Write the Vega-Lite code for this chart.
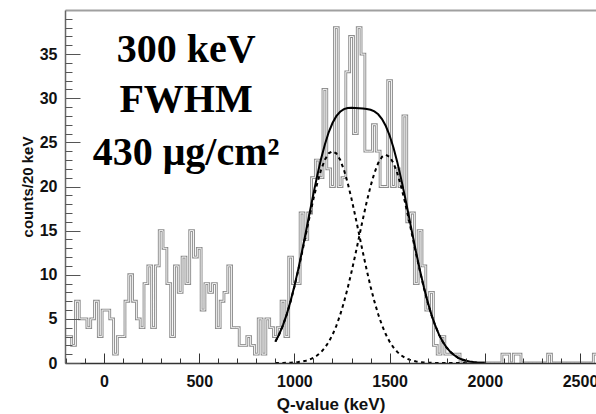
{
  "$schema": "https://vega.github.io/schema/vega-lite/v6.json",
  "autosize": "none",
  "width": 531,
  "height": 353,
  "padding": {"left": 65, "top": 10, "right": 0, "bottom": 51},
  "config": {"view": {"stroke": null}, "font": "Liberation Sans"},
  "datasets": {
    "hist": [
      {"q":-210,"n":3},{"q":-190,"n":3},{"q":-170,"n":2},{"q":-150,"n":7},{"q":-130,"n":5},{"q":-110,"n":5},{"q":-90,"n":4},{"q":-70,"n":5},{"q":-50,"n":7},{"q":-30,"n":3},
      {"q":-10,"n":6},{"q":10,"n":6},{"q":30,"n":5},{"q":50,"n":1},{"q":70,"n":3},{"q":90,"n":3},{"q":110,"n":7},{"q":130,"n":10},{"q":150,"n":7},{"q":170,"n":5},
      {"q":190,"n":4},{"q":210,"n":9},{"q":230,"n":11},{"q":250,"n":4},{"q":270,"n":11},{"q":290,"n":15},{"q":310,"n":13},{"q":330,"n":9},{"q":350,"n":3},{"q":370,"n":11},
      {"q":390,"n":8},{"q":410,"n":12},{"q":430,"n":9},{"q":450,"n":15},{"q":470,"n":12},{"q":490,"n":13},{"q":510,"n":6},{"q":530,"n":9},{"q":550,"n":8},{"q":570,"n":9},
      {"q":590,"n":4},{"q":610,"n":7},{"q":630,"n":8},{"q":650,"n":11},{"q":670,"n":4},{"q":690,"n":4},{"q":710,"n":2},{"q":730,"n":2},{"q":750,"n":3},{"q":770,"n":2},
      {"q":790,"n":1},{"q":810,"n":5},{"q":830,"n":1},{"q":850,"n":5},{"q":870,"n":4},{"q":890,"n":3},{"q":910,"n":4},{"q":930,"n":7},{"q":950,"n":3},{"q":970,"n":12},
      {"q":990,"n":9},{"q":1010,"n":9},{"q":1030,"n":17},{"q":1050,"n":14},{"q":1070,"n":17},{"q":1090,"n":21},{"q":1110,"n":23},{"q":1130,"n":21},{"q":1150,"n":31},{"q":1170,"n":22},
      {"q":1190,"n":20},{"q":1210,"n":38},{"q":1230,"n":20},{"q":1250,"n":21},{"q":1270,"n":33},{"q":1290,"n":37},{"q":1310,"n":26},{"q":1330,"n":38},{"q":1350,"n":35},{"q":1370,"n":24},
      {"q":1390,"n":24},{"q":1410,"n":27},{"q":1430,"n":24},{"q":1450,"n":20},{"q":1470,"n":20},{"q":1490,"n":32},{"q":1510,"n":20},{"q":1530,"n":22},{"q":1550,"n":20},{"q":1570,"n":28},
      {"q":1590,"n":16},{"q":1610,"n":17},{"q":1630,"n":9},{"q":1650,"n":15},{"q":1670,"n":11},{"q":1690,"n":6},{"q":1710,"n":8},{"q":1730,"n":2},{"q":1750,"n":1},{"q":1770,"n":3},
      {"q":1790,"n":1},{"q":1810,"n":1},{"q":1830,"n":1},{"q":1850,"n":1},{"q":1870,"n":0},{"q":1890,"n":0},{"q":1910,"n":0},{"q":1930,"n":0},{"q":1950,"n":0},{"q":1970,"n":0},
      {"q":1990,"n":0},{"q":2010,"n":0},{"q":2030,"n":0},{"q":2050,"n":0},{"q":2070,"n":0},{"q":2090,"n":1},{"q":2110,"n":1},{"q":2130,"n":0},{"q":2150,"n":1},{"q":2170,"n":1},
      {"q":2190,"n":0},{"q":2210,"n":0},{"q":2230,"n":0},{"q":2250,"n":0},{"q":2270,"n":0},{"q":2290,"n":0},{"q":2310,"n":0},{"q":2330,"n":1},{"q":2350,"n":0},{"q":2370,"n":0},
      {"q":2390,"n":0},{"q":2410,"n":0},{"q":2430,"n":0},{"q":2450,"n":0},{"q":2470,"n":0},{"q":2490,"n":0},{"q":2510,"n":0},{"q":2530,"n":0},{"q":2550,"n":0},{"q":2570,"n":1},
      {"q":2590,"n":1}
    ],
    "fit": [
      {"q":900,"t":2.42,"a":2.42,"b":0.0},{"q":920,"t":3.26,"a":3.25,"b":0.01},{"q":940,"t":4.29,"a":4.28,"b":0.01},{"q":960,"t":5.54,"a":5.52,"b":0.02},{"q":980,"t":7.02,"a":6.98,"b":0.04},
      {"q":1000,"t":8.72,"a":8.65,"b":0.07},{"q":1020,"t":10.61,"a":10.5,"b":0.11},{"q":1040,"t":12.66,"a":12.49,"b":0.17},{"q":1060,"t":14.82,"a":14.56,"b":0.26},{"q":1080,"t":17.02,"a":16.62,"b":0.4},
      {"q":1100,"t":19.19,"a":18.6,"b":0.59},{"q":1120,"t":21.25,"a":20.38,"b":0.87},{"q":1140,"t":23.14,"a":21.9,"b":1.24},{"q":1160,"t":24.77,"a":23.04,"b":1.73},{"q":1180,"t":26.14,"a":23.76,"b":2.38},
      {"q":1200,"t":27.19,"a":24.0,"b":3.19},{"q":1220,"t":27.97,"a":23.76,"b":4.21},{"q":1240,"t":28.47,"a":23.04,"b":5.43},{"q":1260,"t":28.77,"a":21.9,"b":6.87},{"q":1280,"t":28.89,"a":20.38,"b":8.51},
      {"q":1300,"t":28.93,"a":18.6,"b":10.33},{"q":1320,"t":28.9,"a":16.62,"b":12.28},{"q":1340,"t":28.87,"a":14.56,"b":14.31},{"q":1360,"t":28.84,"a":12.49,"b":16.35},{"q":1380,"t":28.79,"a":10.5,"b":18.29},
      {"q":1400,"t":28.69,"a":8.65,"b":20.04},{"q":1420,"t":28.51,"a":6.98,"b":21.53},{"q":1440,"t":28.18,"a":5.52,"b":22.66},{"q":1460,"t":27.64,"a":4.28,"b":23.36},{"q":1480,"t":26.85,"a":3.25,"b":23.6},
      {"q":1500,"t":25.78,"a":2.42,"b":23.36},{"q":1520,"t":24.42,"a":1.76,"b":22.66},{"q":1540,"t":22.79,"a":1.26,"b":21.53},{"q":1560,"t":20.92,"a":0.88,"b":20.04},{"q":1580,"t":18.89,"a":0.6,"b":18.29},
      {"q":1600,"t":16.76,"a":0.41,"b":16.35},{"q":1620,"t":14.58,"a":0.27,"b":14.31},{"q":1640,"t":12.45,"a":0.17,"b":12.28},{"q":1660,"t":10.44,"a":0.11,"b":10.33},{"q":1680,"t":8.58,"a":0.07,"b":8.51},
      {"q":1700,"t":6.91,"a":0.04,"b":6.87},{"q":1720,"t":5.45,"a":0.02,"b":5.43},{"q":1740,"t":4.22,"a":0.01,"b":4.21},{"q":1760,"t":3.19,"a":0.0,"b":3.19},{"q":1780,"t":2.38,"a":0.0,"b":2.38},
      {"q":1800,"t":1.73,"a":0.0,"b":1.73},{"q":1820,"t":1.24,"a":0.0,"b":1.24},{"q":1840,"t":0.87,"a":0.0,"b":0.87},{"q":1860,"t":0.59,"a":0.0,"b":0.59},{"q":1880,"t":0.4,"a":0.0,"b":0.4},
      {"q":1900,"t":0.26,"a":0.0,"b":0.26},{"q":1920,"t":0.17},{"q":1940,"t":0.11},{"q":1960,"t":0.07},{"q":1980,"t":0.04},{"q":2000,"t":0.02}
    ],
    "notes": [
      {"q":431,"c":34.1,"s":"300 keV"},
      {"q":431,"c":28.4,"s":"FWHM"},
      {"q":431,"c":22.4,"s":"430 μg/cm²"}
    ]
  },
  "resolve": {"axis": {"x": "independent", "y": "independent"}},
  "layer": [
    {
      "data": {"name": "hist"},
      "mark": {"type": "line", "interpolate": "step-after", "color": "#8c8c8c", "strokeWidth": 2.8, "clip": true},
      "encoding": {
        "x": {"field": "q", "type": "quantitative", "scale": {"domain": [-205, 2584], "nice": false, "zero": false},
          "axis": {"orient": "bottom", "values": [0,500,1000,1500,2000,2500], "format": "d", "tickSize": -10, "labelPadding": 20, "tickColor": "#333", "domainColor": "#333", "domainWidth": 1.5, "labelFont": "Liberation Sans", "labelFontWeight": "bold", "labelFontSize": 16, "labelColor": "#111", "labelFlush": false, "grid": false, "zindex": 1,
            "title": "Q-value (keV)", "titleFont": "Liberation Sans", "titleFontWeight": "bold", "titleFontSize": 17, "titleColor": "#111", "titlePadding": 7}},
        "y": {"field": "n", "type": "quantitative", "scale": {"domain": [0, 40], "nice": false},
          "axis": {"orient": "left", "values": [0,5,10,15,20,25,30,35], "format": "d", "tickSize": -15, "labelPadding": 23, "tickColor": "#555", "domainColor": "#666", "domainWidth": 1.5, "labelFont": "Liberation Sans", "labelFontWeight": "bold", "labelFontSize": 16, "labelColor": "#111", "grid": false, "zindex": 1,
            "title": "counts/20 keV", "titleFont": "Liberation Sans", "titleFontWeight": "bold", "titleFontSize": 15, "titleColor": "#111", "titlePadding": 4}}
      }
    },
    {
      "data": {"name": "hist"},
      "mark": {"type": "line", "interpolate": "step-after", "color": "#ffffff", "strokeWidth": 0.9, "clip": true},
      "encoding": {
        "x": {"field": "q", "type": "quantitative",
          "axis": {"orient": "bottom", "values": [-200,-100,100,200,300,400,600,700,800,900,1100,1200,1300,1400,1600,1700,1800,1900,2100,2200,2300,2400], "tickSize": -5, "labels": false, "domain": false, "title": null, "grid": false, "tickColor": "#333", "zindex": 1}},
        "y": {"field": "n", "type": "quantitative",
          "axis": {"orient": "left", "values": [1,2,3,4,6,7,8,9,11,12,13,14,16,17,18,19,21,22,23,24,26,27,28,29,31,32,33,34,36,37,38,39], "tickSize": -7, "labels": false, "domain": false, "title": null, "grid": false, "tickColor": "#555", "zindex": 1}}
      }
    },
    {
      "data": {"name": "fit"},
      "mark": {"type": "line", "color": "#000", "strokeWidth": 2, "strokeDash": [3.5, 3.5]},
      "encoding": {
        "x": {"field": "q", "type": "quantitative", "axis": null},
        "y": {"field": "a", "type": "quantitative", "axis": null}
      }
    },
    {
      "data": {"name": "fit"},
      "mark": {"type": "line", "color": "#000", "strokeWidth": 2, "strokeDash": [3.5, 3.5]},
      "encoding": {
        "x": {"field": "q", "type": "quantitative", "axis": null},
        "y": {"field": "b", "type": "quantitative", "axis": null}
      }
    },
    {
      "data": {"name": "fit"},
      "mark": {"type": "line", "color": "#000", "strokeWidth": 2},
      "encoding": {
        "x": {"field": "q", "type": "quantitative",
          "axis": {"orient": "top", "ticks": false, "labels": false, "title": null, "grid": false, "domainColor": "#a0a0a0", "domainWidth": 2}},
        "y": {"field": "t", "type": "quantitative", "axis": null}
      }
    },
    {
      "data": {"name": "notes"},
      "mark": {"type": "text", "font": "Liberation Serif", "fontWeight": "bold", "fontSize": 40, "align": "center", "baseline": "alphabetic", "color": "#000"},
      "encoding": {
        "x": {"field": "q", "type": "quantitative", "axis": null},
        "y": {"field": "c", "type": "quantitative", "axis": null},
        "text": {"field": "s"}
      }
    }
  ]
}
